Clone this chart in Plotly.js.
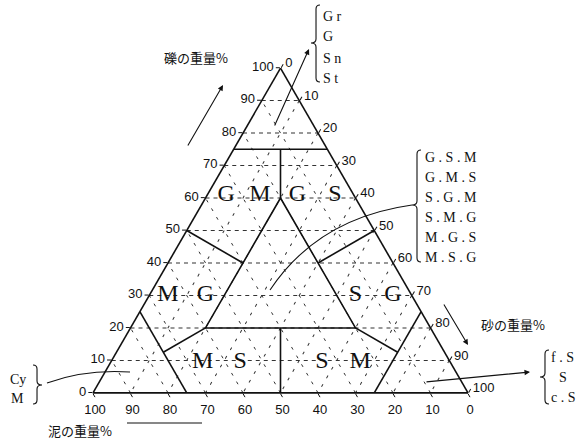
<!DOCTYPE html>
<html><head><meta charset="utf-8">
<script src="https://cdn.plot.ly/plotly-3.0.1.min.js"></script>
<style>html,body{margin:0;padding:0;background:#fff}#chart{width:581px;height:442px}</style>
</head><body><div id="chart"></div>
<script>
// ---- data (gravel = a, mud = b, sand = c, weight %) ----
const tickValues = [0,10,20,30,40,50,60,70,80,90,100];

// boundary polylines (one entry per polyline)
const boundaryGravel = [[75,75],[75,60],[50,40],[60,20,20,60],[50,40],[25,0],[20,12.5],[25,0],[20,12.5],[20,0]];
const boundaryMud    = [[25,0],[12.5,20],[50,40],[20,60,20,20],[0,20],[75,75],[60,75],[0,25],[20,12.5],[40,50]];
const boundarySand   = [[0,25],[12.5,20],[0,20],[20,20,60,20],[50,40],[0,25],[20,12.5],[75,75],[60,75],[40,50]];

// region letters
const regionText   = ['G','M','G','S','M','G','S','G','M','S','S','M'];
const regionGravel = [61,61,61,61,30,30,30,30,9.5,9.5,9.5,9.5];
const regionMud    = [34,25,15,5,65,55,15,5,66,56,34,24];
const regionSand   = [5,14,24,34,5,15,55,65,24.5,34.5,56,66.5];

const gravelTitle = '礫の重量%';
const mudTitle = '泥の重量%';
const sandTitle = '砂の重量%';
const groupTop = ['G r','G','S n','S t'];
const groupMid = ['G . S . M','G . M . S','S . G . M','S . M . G','M . G . S','M . S . G'];
const groupSand = ['f . S','S','c . S'];
const groupMud = ['Cy','M'];

// ---- layout helpers (pixel -> paper) ----
const W = 581, H = 442;
const M = {l:93, r:113, t:68, b:49};
const PW = W - M.l - M.r, PH = H - M.t - M.b;
const px = x => (x - M.l) / PW;
const py = y => (H - M.b - y) / PH;
const pt = (x, y) => px(x).toFixed(4) + ',' + py(y).toFixed(4);

function bracePath(x, y0, y1, ym, dir) {
  const e = 4, t = 5;
  return 'M' + pt(x + dir*e, y0) + ' Q' + pt(x, y0) + ' ' + pt(x, y0 + e) +
         ' L' + pt(x, ym - e) + ' Q' + pt(x, ym) + ' ' + pt(x - dir*t, ym) +
         ' Q' + pt(x, ym) + ' ' + pt(x, ym + e) +
         ' L' + pt(x, y1 - e) + ' Q' + pt(x, y1) + ' ' + pt(x + dir*e, y1);
}

const traces = [];
for (let i = 0; i < boundaryGravel.length; i++) {
  traces.push({
    type: 'scatterternary', mode: 'lines',
    a: boundaryGravel[i], b: boundaryMud[i], c: boundarySand[i],
    line: {color: '#111', width: 1.6}, hoverinfo: 'skip', showlegend: false
  });
}
traces.push({
  type: 'scatterternary', mode: 'text',
  a: regionGravel, b: regionMud, c: regionSand, text: regionText,
  textposition: 'middle center',
  textfont: {family: 'Liberation Serif, serif', size: 24, color: '#111'},
  hoverinfo: 'skip', showlegend: false
});

const serif = {family: 'Liberation Serif, serif', size: 14, color: '#111'};
const cjk = {family: 'Noto Sans CJK JP, sans-serif', size: 13, color: '#111'};
const ann = [];
function txt(text, x, y, font, xanchor) {
  ann.push({text: text, x: px(x), y: py(y), xref: 'paper', yref: 'paper',
    showarrow: false, font: font, xanchor: xanchor || 'center', yanchor: 'middle'});
}
function arrow(hx, hy, tx, ty) {
  ann.push({text: '', x: px(hx), y: py(hy), xref: 'paper', yref: 'paper',
    showarrow: true, ax: tx - hx, ay: ty - hy, arrowhead: 2, arrowsize: 1,
    arrowwidth: 1.1, arrowcolor: '#111'});
}
txt(gravelTitle, 196, 57, cjk);
txt(mudTitle, 80, 430, cjk);
txt(sandTitle, 513, 324, cjk);
const topY = [16, 37, 58, 78];
groupTop.forEach((t, i) => txt(t, 321, topY[i], serif, 'left'));
const midY = [157, 177, 197, 217, 237, 257];
groupMid.forEach((t, i) => txt(t, 423, midY[i], serif, 'left'));
txt(groupSand[0], 549, 357, serif, 'left');
txt(groupSand[1], 563, 377, serif, 'center');
txt(groupSand[2], 549, 397, serif, 'left');
txt(groupMud[0], 8, 379, serif, 'left');
txt(groupMud[1], 9, 398, serif, 'left');

arrow(223, 85, 187, 147);
arrow(309, 49, 274, 127);
arrow(468, 345, 443, 303);
arrow(530, 372, 425, 382);

const lineStyle = {color: '#111', width: 1.1};
const shapes = [
  {type: 'path', xref: 'paper', yref: 'paper', path: bracePath(316, 5, 82, 43, 1), line: lineStyle},
  {type: 'path', xref: 'paper', yref: 'paper', path: bracePath(417, 150, 262, 205, 1), line: lineStyle},
  {type: 'path', xref: 'paper', yref: 'paper', path: bracePath(545, 350, 404, 377, 1), line: lineStyle},
  {type: 'path', xref: 'paper', yref: 'paper', path: bracePath(37, 365, 404, 385, -1), line: lineStyle},
  {type: 'line', xref: 'paper', yref: 'paper', x0: px(127), y0: py(423), x1: px(202), y1: py(423), line: lineStyle},
  {type: 'path', xref: 'paper', yref: 'paper', path: 'M' + pt(47, 383) + ' Q' + pt(85, 369) + ' ' + pt(130, 372), line: lineStyle},
  {type: 'path', xref: 'paper', yref: 'paper', path: 'M' + pt(270, 290) + ' Q' + pt(318, 218) + ' ' + pt(412, 205), line: lineStyle}
];

function axis(dash) {
  return {
    tickmode: 'array', tickvals: tickValues, ticktext: tickValues.map(String),
    ticks: 'outside', ticklen: 4, tickcolor: '#111', tickwidth: 1,
    tickfont: {family: 'Liberation Sans, Arial, sans-serif', size: 13, color: '#111'},
    showline: true, linecolor: '#111', linewidth: 1.6,
    showgrid: true, gridcolor: '#333', gridwidth: 1, griddash: dash,
    title: {text: ''}
  };
}

const layout = {
  width: W, height: H,
  margin: M,
  paper_bgcolor: '#fff',
  showlegend: false,
  ternary: {
    sum: 100,
    bgcolor: '#fff',
    domain: {x: [0, 1], y: [0, 1]},
    aaxis: axis('4px,4px'),
    baxis: axis('3px,7px'),
    caxis: axis('3px,7px')
  },
  annotations: ann,
  shapes: shapes
};

Plotly.newPlot('chart', traces, layout, {staticPlot: true, displayModeBar: false});
</script>
</body></html>
